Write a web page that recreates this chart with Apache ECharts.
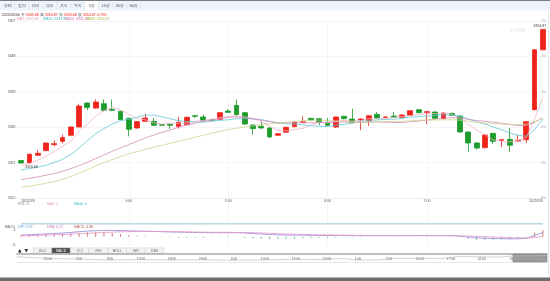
<!DOCTYPE html>
<html><head><meta charset="utf-8">
<script src="https://cdn.jsdelivr.net/npm/echarts@6/dist/echarts.min.js"></script>
<style>html,body{margin:0;padding:0;background:#fff}#c{width:550px;height:281px}</style>
</head><body><div id="c"></div>
<script>
const categories = ['2:55','3:00','3:05','3:10','3:15','3:20','3:25','3:30','3:35','3:40','3:45','3:50','3:55',
 '4:00','4:05','4:10','4:15','4:20','4:25','4:30','4:35','4:40','4:45','4:50','4:55',
 '5:00','5:05','5:10','5:15','5:20','5:25','5:30','5:35','5:40','5:45','5:50','5:55',
 '6:00','6:05','6:10','6:15','6:20','6:25','6:30','6:35','6:40','6:45','6:50','6:55',
 '7:00','7:05','7:10','7:15','7:20','7:25','7:30','7:35','7:40','7:45','7:50','7:55',
 '8:00','8:05','8:10'];
const xLabelIdx = [0,13,25,37,49,63];
const xGridIdx = [13,25,37,49];
const dateLabel = '2025/5/6';

const opens  = [3321.51,3320.92,3322.86,3324.05,3325.57,3326.41,3327.94,3330.05,3336.14,3334.87,3335.97,3334.54,3334.03,3332.25,3329.80,3331.49,3331.49,3330.60,3330.73,3330.22,3330.64,3332.93,3332.59,3331.90,3332.00,3334.11,3335.55,3333.69,3330.56,3330.22,3329.80,3327.94,3328.70,3330.14,3331.15,3332.25,3332.17,3330.98,3330.05,3332.76,3332.08,3331.83,3331.58,3333.27,3332.50,3332.84,3332.51,3333.01,3334.45,3333.77,3333.86,3332.17,3333.52,3332.84,3328.78,3325.99,3324.81,3328.44,3326.67,3326.92,3326.50,3326.84,3334.45,3349.68];
const closes = [3320.90,3323.12,3323.37,3325.99,3325.82,3327.35,3330.05,3335.38,3335.04,3336.40,3334.28,3334.28,3331.91,3329.46,3331.41,3332.34,3330.48,3330.50,3330.48,3331.24,3332.51,3332.76,3331.66,3331.75,3333.69,3333.77,3333.18,3330.81,3329.63,3329.80,3327.51,3328.36,3329.97,3331.32,3331.41,3331.83,3331.41,3330.48,3332.59,3332.17,3331.15,3332.08,3332.93,3332.34,3332.60,3332.51,3333.10,3334.20,3333.69,3333.94,3332.25,3333.60,3333.01,3328.78,3325.99,3324.72,3328.02,3326.41,3326.84,3325.40,3326.67,3331.41,3349.68,3354.87];
const lows   = [3320.80,3320.68,3322.78,3323.90,3325.15,3325.91,3327.80,3330.00,3334.37,3334.70,3334.03,3334.20,3331.80,3327.68,3329.60,3331.40,3330.30,3330.40,3329.55,3329.63,3330.50,3332.34,3331.41,3331.60,3331.90,3333.60,3333.00,3330.60,3328.10,3329.60,3327.30,3327.80,3328.55,3330.00,3331.00,3331.70,3330.48,3330.35,3329.80,3332.00,3331.00,3329.21,3330.31,3332.20,3332.40,3332.40,3332.35,3332.85,3333.55,3330.81,3332.10,3332.00,3332.85,3328.60,3323.71,3324.30,3324.60,3325.74,3324.98,3323.71,3326.30,3325.99,3334.30,3349.50];
const highs  = [3321.70,3323.30,3324.21,3326.10,3326.67,3328.10,3330.20,3335.97,3336.30,3337.07,3337.07,3336.99,3334.20,3332.40,3331.60,3333.44,3332.34,3330.70,3330.85,3332.59,3332.70,3333.10,3333.18,3332.00,3333.85,3334.62,3337.07,3333.85,3330.70,3331.66,3330.00,3328.50,3330.10,3331.50,3332.76,3332.40,3332.30,3332.34,3332.70,3332.90,3334.71,3332.20,3333.10,3333.86,3332.75,3333.86,3333.27,3334.37,3334.60,3334.10,3334.00,3333.75,3333.70,3333.00,3328.90,3326.10,3328.20,3328.60,3327.00,3329.80,3328.10,3331.60,3349.90,3354.87];

// moving-average values for bars whose window starts before the visible range
const ma5Head  = [3320.3,3320.8,3321.6,3322.6];
const ma10Head = [3319.14,3319.48,3319.82,3320.32,3321.00,3321.85,3323.03,3324.72,3326.58];
const ma20Head = [3316.69,3317.02,3317.36,3317.79,3318.21,3318.80,3319.48,3320.24,3321.08,3322.02,3322.95,3323.88,3324.72,3325.57,3326.41,3327.26,3328.02,3328.70,3329.29];
const ma30Head = [3314.74,3314.99,3315.33,3315.75,3316.18,3316.77,3317.45,3318.29,3319.22,3320.15,3321.00,3321.76,3322.52,3323.20,3323.79,3324.38,3324.89,3325.40,3325.91,3326.41,3326.92,3327.43,3327.94,3328.45,3328.95,3329.38,3329.71,3330.05,3330.31];

const volumes = [0,0,0,0,0,0,0,0,0,0,0,0,0,0,0,0,0,0,0,0,0,0,0,0,0,0,0,0,0,0,0,0,0,0,0,0,0,0,0,0,0,0,0,0,0,0,0,0,0,0,0,0,0,0,0,0,0,0,0,0,0,0,0,0];

const dif = [1.0,1.2,1.4,1.7,1.9,2.2,2.5,3.0,3.3,3.6,3.7,3.8,3.7,3.5,3.4,3.3,3.1,3.0,2.8,2.7,2.6,2.5,2.4,2.4,2.4,2.4,2.4,2.2,1.9,1.6,1.3,1.1,1.0,0.9,0.9,0.8,0.8,0.7,0.7,0.7,0.6,0.6,0.6,0.6,0.6,0.6,0.6,0.7,0.7,0.7,0.6,0.6,0.6,0.3,-0.2,-0.7,-1.0,-1.1,-1.2,-1.3,-1.3,-0.9,0.7,2.59];
const dea = [0.5,0.6,0.8,0.9,1.1,1.3,1.5,1.8,2.0,2.3,2.5,2.7,2.9,3.0,3.1,3.1,3.1,3.1,3.0,3.0,2.9,2.8,2.7,2.6,2.6,2.6,2.5,2.5,2.4,2.2,2.0,1.8,1.6,1.5,1.4,1.2,1.1,1.0,1.0,0.9,0.8,0.8,0.7,0.7,0.7,0.6,0.6,0.6,0.6,0.6,0.6,0.6,0.6,0.5,0.4,0.2,0.0,-0.2,-0.4,-0.6,-0.7,-0.8,-0.5,0.15];

const priceTicks = {min: 3312, max: 3357, interval: 9};
const pctBase = 3321;

const navLabels = ['21:00','2:00','9:00','13:00','18:00','23:00','4:00','10:00','15:00','20:00','1:00','7:00','12:00','17:00','22:00','3:00'];
const navShadow = [[0,5.3],[0.42,4.5],[0.84,3.7],[1.39,3.3],[2.03,3.0],[3.0,2.0],[3.97,2.5],[4.94,2.0],[5.9,2.3],[6.87,1.7],[7.84,2.0],[8.8,2.7],[9.77,2.5],[10.58,3.5],[10.9,2.0],[11.55,2.0],[12.26,3.7],[13.0,3.7],[13.74,3.5],[14.19,5.3],[14.94,5.2],[15.58,5.0],[16.0,6.0],[17.1,6.5]];
const navWindow = [16.0, 17.1];

const tabs = ['分时','五日','日K','周K','月K','年K','5分','15分','30分','60分'];
const activeTab = '5分';
const indicators = ['KDJ','MACD','CCI','RSI','BOLL','WR','DMI'];
const activeIndicator = 'MACD';

function movingAvg(n, head){
  return closes.map((c,i)=>{
    if(i < n-1) return head[i];
    let s=0; for(let k=i-n+1;k<=i;k++) s+=closes[k];
    return +(s/n).toFixed(2);
  });
}
const ma5 = movingAvg(5, ma5Head), ma10 = movingAvg(10, ma10Head), ma20 = movingAvg(20, ma20Head), ma30 = movingAvg(30, ma30Head);
const hist = dif.map((d,i)=> +(2*(d-dea[i])).toFixed(2));
const candles = opens.map((o,i)=>[o, closes[i], lows[i], highs[i]]);

const FF = '"Liberation Sans", Arial, sans-serif';
const RED = '#f0231b', GREEN = '#1b9c2b';
const C5 = '#f2b3c6', C10 = '#62c8d8', C20 = '#d98cbf', C30 = '#cdd68c';

const chart = echarts.init(document.getElementById('c'), null, {renderer:'canvas'});

const graphic = [];
// tab bar
graphic.push({type:'rect', shape:{x:0,y:0,width:550,height:10.5}, style:{fill:'#edf4fc'}, silent:true});
graphic.push({type:'rect', shape:{x:0,y:0,width:550,height:1}, style:{fill:'#7a7a7a'}, silent:true});
tabs.forEach((t,i)=>{
  const x0 = 1 + i*14;
  if(t===activeTab){
    graphic.push({type:'rect', shape:{x:x0,y:1,width:13.5,height:9.5}, style:{fill:'#ffffff'}, silent:true});
  }
  graphic.push({type:'rect', shape:{x:x0+13.6,y:2,width:0.5,height:7.5}, style:{fill:'#d5dbe3'}, silent:true});
  graphic.push({type:'text', x:x0+6.8, y:5.8, style:{text:t, font:'4px '+FF, fill:'#555', align:'center', verticalAlign:'middle'}, silent:true});
});
// header
graphic.push({type:'text', x:1.7, y:14.7, style:{
  text:'2025/05/06 {l|开} {v|3349.68} {l|高} {v|3354.87} {l|低} {v|3349.68} {l|收} {v|3354.87} {v|0.79%}',
  font:'3.6px '+FF, fill:'#333', verticalAlign:'middle',
  rich:{l:{fill:'#666', font:'3.6px '+FF}, v:{fill:RED, font:'3.6px '+FF}}}, silent:true});
// MA legend
[['MA5: 3337.49',16.7,'#e79ab2'],['MA10: 3331.95',43.3,'#3fb6ca'],['MA20: 3332.37',65,'#cf73ad'],['MA30: 3332.19',85.7,'#a9b84a']].forEach(a=>{
  graphic.push({type:'text', x:a[1], y:19.2, style:{text:a[0], font:'3.5px '+FF, fill:a[2], verticalAlign:'middle'}, silent:true});
});
// volume legend
[['VOL: 0',18,'#777'],['MA5: 0',47,'#e79ab2'],['MA10: 0',74,'#3fb6ca']].forEach(a=>{
  graphic.push({type:'text', x:a[1], y:204.5, style:{text:a[0], font:'3.5px '+FF, fill:a[2], verticalAlign:'middle'}, silent:true});
});
// macd legend
graphic.push({type:'text', x:15, y:226.7, style:{text:'MACD', font:'3.5px '+FF, fill:'#666', align:'right', verticalAlign:'middle'}, silent:true});
[['DIF: '+dif[dif.length-1].toFixed(2),18,'#4f9be0'],['DEA: '+dea[dea.length-1].toFixed(2),47,'#c47ac0'],['MACD: '+hist[hist.length-1].toFixed(2),74,'#b5604f']].forEach(a=>{
  graphic.push({type:'text', x:a[1], y:226.7, style:{text:a[0], font:'3.5px '+FF, fill:a[2], verticalAlign:'middle'}, silent:true});
});
// indicator buttons
graphic.push({type:'polygon', shape:{points:[[18,252.5],[21.5,252.5],[19.75,249]]}, style:{fill:'#222'}, silent:true});
graphic.push({type:'polygon', shape:{points:[[24.5,249],[28,249],[26.25,252.5]]}, style:{fill:'#222'}, silent:true});
indicators.forEach((t,i)=>{
  const x0 = 33 + i*18.7;
  const act = t===activeIndicator;
  graphic.push({type:'rect', shape:{x:x0,y:247.8,width:18.7,height:5.5}, style:{fill: act?'#4a4a4a':'#f2f2f2', stroke:'#cfcfcf', lineWidth:0.5}, silent:true});
  graphic.push({type:'text', x:x0+9.35, y:250.6, style:{text:t, font:'3.5px '+FF, fill: act?'#fff':'#666', align:'center', verticalAlign:'middle'}, silent:true});
});
// right border & bottom band
graphic.push({type:'rect', shape:{x:548,y:11,width:0.6,height:266}, style:{fill:'#dcdcdc'}, silent:true});
graphic.push({type:'rect', shape:{x:0,y:277.5,width:550,height:4}, style:{fill:'#6e6e6e'}, silent:true});
graphic.push({type:'text', x:517, y:30, style:{text:'东方财富', font:'4px "Noto Sans CJK SC", sans-serif', fill:'#dddddd', align:'center', verticalAlign:'middle'}, silent:true});

const splitColor = '#efefef';
const catAxisBase = (gi, showLabel) => ({
  type:'category', gridIndex:gi, data:categories, boundaryGap:true,
  axisLine:{show: gi===0, lineStyle:{color:'#e6e6e6', width:0.5}},
  axisTick:{show:false},
  splitLine:{show:true, interval:(idx)=>xGridIdx.includes(idx), alignWithLabel:true, lineStyle:{color:splitColor, width:0.6}},
  axisLabel: showLabel ? {
    show:true, fontSize:3.5, fontFamily:FF, color:'#555', margin:1.5,
    interval:(idx)=>xLabelIdx.includes(idx),
    alignMinLabel:'left', alignMaxLabel:'right',
    formatter:(v,idx)=> (idx===0||idx===categories.length-1) ? dateLabel : v
  } : {show:false}
});

const option = {
  animation:false,
  backgroundColor:'#fff',
  graphic,
  grid:[
    {left:17, right:3, top:21, height:177},
    {left:17, right:3, top:203, height:21},
    {left:17, right:3, top:230, height:15},
    {left:17, right:3, top:254, height:8}
  ],
  xAxis:[
    catAxisBase(0,true),
    catAxisBase(1,false),
    catAxisBase(2,false),
    {type:'value', gridIndex:3, min:0, max:17.1, interval:1,
      axisLine:{show:true, lineStyle:{color:'#cfcfcf', width:0.5}}, axisTick:{show:false}, splitLine:{show:false},
      axisLabel:{show:true, inside:true, margin:1.2, fontSize:3.3, fontFamily:FF, color:'#555',
        formatter:(v)=> (v>=1 && v<=navLabels.length && Math.abs(v-Math.round(v))<1e-6) ? navLabels[Math.round(v)-1] : '', showMinLabel:false, showMaxLabel:false}},
    {type:'value', gridIndex:3, position:'top', min:0, max:17.1,
      axisLine:{show:true, lineStyle:{color:'#a9a9a9', width:1.5}}, axisTick:{show:false}, splitLine:{show:false}, axisLabel:{show:false}}
  ],
  yAxis:[
    {type:'value', gridIndex:0, min:priceTicks.min, max:priceTicks.max, interval:priceTicks.interval, scale:true,
      axisLine:{show:false}, axisTick:{show:false},
      splitLine:{show:true, lineStyle:{color:splitColor, width:0.6}},
      axisLabel:{fontSize:3.5, fontFamily:FF, color:'#555', margin:1.5, formatter:(v)=>String(v)}},
    {type:'value', gridIndex:0, position:'right', min:priceTicks.min, max:priceTicks.max, interval:priceTicks.interval, scale:true,
      axisLine:{show:false}, axisTick:{show:false}, splitLine:{show:false},
      axisLabel:{inside:true, fontSize:3.3, fontFamily:FF, color:'#aaa', margin:1,
        formatter:(v)=> ((v-pctBase)/pctBase*100).toFixed(0)+'%'}},
    {type:'value', gridIndex:1, min:0, max:1, interval:1,
      axisLine:{show:false}, axisTick:{show:false}, splitLine:{show:false}, axisLabel:{show:false}},
    {type:'value', gridIndex:2, min:-5, max:4, interval:1,
      axisLine:{show:false}, axisTick:{show:false}, splitLine:{show:false},
      axisLabel:{fontSize:3.5, fontFamily:FF, color:'#555', margin:1.5, formatter:(v)=> (v===4||v===-5)? String(v) : ''}},
    {type:'value', gridIndex:3, min:0, max:8, show:false}
  ],
  series:[
    {type:'candlestick', name:'K', xAxisIndex:0, yAxisIndex:0, data:candles, barWidth:'64%',
      itemStyle:{color:RED, color0:GREEN, borderColor:RED, borderColor0:GREEN, borderWidth:0.8},
      markPoint:{symbol:'circle', symbolSize:0.01, silent:true,
        label:{fontSize:3.5, fontFamily:FF, color:'#333', formatter:(p)=>Number(p.value).toFixed(2)},
        data:[
          {type:'max', valueDim:'highest', label:{position:'top', distance:1.5, offset:[-3,0]}},
          {type:'min', valueDim:'lowest', label:{position:'bottom', distance:1.5, offset:[2,0]}}
        ]}},
    {type:'line', name:'MA5', data:ma5, xAxisIndex:0, yAxisIndex:0, symbol:'none', smooth:false, lineStyle:{color:C5, width:0.8}},
    {type:'line', name:'MA10', data:ma10, xAxisIndex:0, yAxisIndex:0, symbol:'none', lineStyle:{color:C10, width:0.8}},
    {type:'line', name:'MA20', data:ma20, xAxisIndex:0, yAxisIndex:0, symbol:'none', lineStyle:{color:C20, width:0.8}},
    {type:'line', name:'MA30', data:ma30, xAxisIndex:0, yAxisIndex:0, symbol:'none', lineStyle:{color:C30, width:0.8}},
    {type:'bar', name:'VOL', data:volumes, xAxisIndex:1, yAxisIndex:2, barWidth:'60%', itemStyle:{color:'#ccc'}},
    {type:'line', name:'VMA5', data:volumes, xAxisIndex:1, yAxisIndex:2, symbol:'none', lineStyle:{color:C5, width:0.8}},
    {type:'line', name:'VMA10', data:volumes, xAxisIndex:1, yAxisIndex:2, symbol:'none', lineStyle:{color:C10, width:0.8}},
    {type:'bar', name:'MACD', data:hist.map(v=>({value:v, itemStyle:{color: v>=0 ? '#d07a70' : '#5db5a6'}})), xAxisIndex:2, yAxisIndex:3, barWidth:0.8},
    {type:'line', name:'DIF', data:dif, xAxisIndex:2, yAxisIndex:3, symbol:'none', lineStyle:{color:'#8f88dc', width:0.8}},
    {type:'line', name:'DEA', data:dea, xAxisIndex:2, yAxisIndex:3, symbol:'none', lineStyle:{color:'#e895c8', width:0.8}},
    {type:'line', name:'nav', data:navShadow, xAxisIndex:3, yAxisIndex:4, symbol:'none', lineStyle:{color:'#b5b5b5', width:0.6},
      markArea:{silent:true, itemStyle:{color:'#9c9c9c', borderColor:'#777', borderWidth:0.5}, data:[[{xAxis:navWindow[0]},{xAxis:navWindow[1]}]]}}
  ]
};
chart.setOption(option);
</script></body></html>
